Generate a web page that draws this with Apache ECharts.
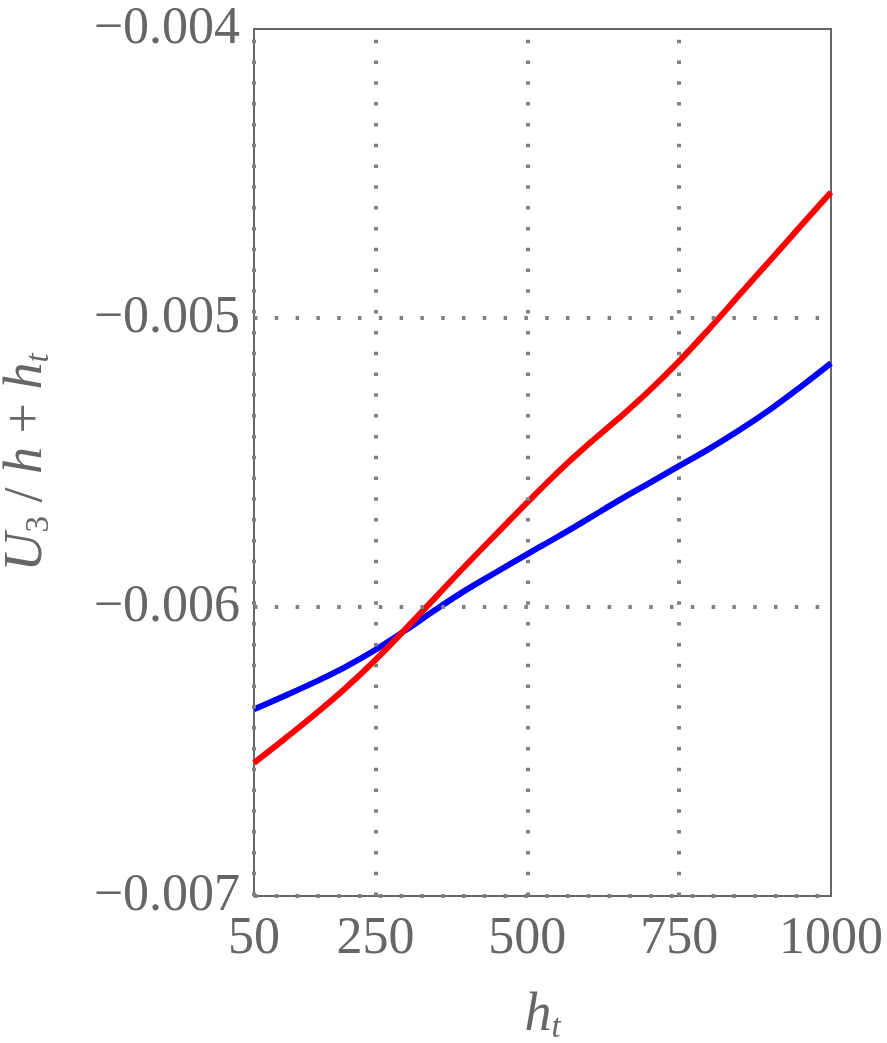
<!DOCTYPE html>
<html>
<head>
<meta charset="utf-8">
<script src="https://cdn.jsdelivr.net/npm/echarts@6/dist/echarts.min.js"></script>
<style>
  html, body { margin: 0; padding: 0; background: #fff; }
  #main { width: 887px; height: 1043px; }
</style>
</head>
<body>
<div id="main"></div>
<script>
// h_t values
const hT = [50, 100, 150, 200, 250, 300, 350, 400, 450, 500, 550, 600, 650, 700, 750, 800, 850, 900, 950, 1000];
// red curve
const redValues = [-0.006539, -0.006457, -0.006372, -0.006282, -0.006183, -0.006075, -0.005964, -0.005853, -0.005745, -0.005638,
  -0.005534, -0.005438, -0.005348, -0.005253, -0.005149, -0.005036, -0.004918, -0.0048, -0.004682, -0.004565];
// blue curve
const blueValues = [-0.006354, -0.006308, -0.00626, -0.006208, -0.006148, -0.00608, -0.006008, -0.00594, -0.005878, -0.005817,
  -0.005757, -0.005695, -0.005632, -0.005572, -0.005512, -0.005452, -0.005387, -0.005316, -0.005238, -0.005156];
const xTicks = [50, 250, 500, 750, 1000];
const xGrid = [50, 250, 500, 750];
const yGrid = [-0.007, -0.006, -0.005];

const font = "'Liberation Serif', 'DejaVu Serif', serif";
const textColor = "#666";

const pairs = (ys) => hT.map((x, i) => [x, ys[i]]);

const gridLines = xGrid
  .map((x) => [{ coord: [x, -0.007] }, { coord: [x, -0.004] }])
  .concat(yGrid.map((y) => [{ coord: [50, y] }, { coord: [1000, y] }]));

const chart = echarts.init(document.getElementById("main"));
chart.setOption({
  animation: false,
  grid: {
    left: 254,
    top: 29,
    right: 56,
    bottom: 147,
    outerBoundsMode: "none",
    containLabel: false,
    show: true,
    borderColor: "#666",
    borderWidth: 2,
  },
  xAxis: {
    type: "value",
    min: 50,
    max: 1000,
    axisLine: { show: false },
    axisTick: { show: false },
    splitLine: { show: false },
    axisLabel: {
      customValues: xTicks,
      color: textColor,
      fontFamily: font,
      fontSize: 52,
      margin: 17,
      formatter: (v) => String(v),
    },
    name: "{i|h}{s|t}",
    nameLocation: "middle",
    nameGap: 90,
    nameTextStyle: {
      color: textColor,
      fontFamily: font,
      rich: {
        i: { fontSize: 54, fontStyle: "italic", fontFamily: font, color: textColor },
        s: { fontSize: 33, fontStyle: "italic", fontFamily: font, color: textColor, padding: [26, 0, 0, 0] },
      },
    },
  },
  yAxis: {
    type: "value",
    min: -0.007,
    max: -0.004,
    interval: 0.001,
    axisLine: { show: false },
    axisTick: { show: false },
    splitLine: { show: false },
    axisLabel: {
      color: textColor,
      fontFamily: font,
      fontSize: 52,
      margin: 14,
      formatter: (v) => "\u2212" + Math.abs(v).toFixed(3),
    },
    name: "{i|U}{s|3}{n| / }{i|h}{n| + }{i|h}{t|t}",
    nameLocation: "middle",
    nameGap: 198,
    nameRotate: 90,
    nameTextStyle: {
      color: textColor,
      fontFamily: font,
      rich: {
        i: { fontSize: 54, fontStyle: "italic", fontFamily: font, color: textColor },
        n: { fontSize: 54, fontFamily: font, color: textColor },
        s: { fontSize: 33, fontFamily: font, color: textColor, padding: [26, 0, 0, 0] },
        t: { fontSize: 33, fontStyle: "italic", fontFamily: font, color: textColor, padding: [26, 0, 0, 0] },
      },
    },
  },
  series: [
    {
      type: "line",
      data: [],
      z: 1,
      markLine: {
        silent: true,
        symbol: ["none", "none"],
        label: { show: false },
        lineStyle: { color: "#808080", width: 4, type: [3.5, 17.3] },
        data: gridLines,
      },
    },
    {
      type: "line",
      data: pairs(blueValues),
      smooth: 0.4,
      symbol: "none",
      z: 3,
      lineStyle: { color: "#0000ff", width: 6 },
    },
    {
      type: "line",
      data: pairs(redValues),
      smooth: 0.4,
      symbol: "none",
      z: 4,
      lineStyle: { color: "#ff0000", width: 6 },
    },
  ],
});
</script>
</body>
</html>
